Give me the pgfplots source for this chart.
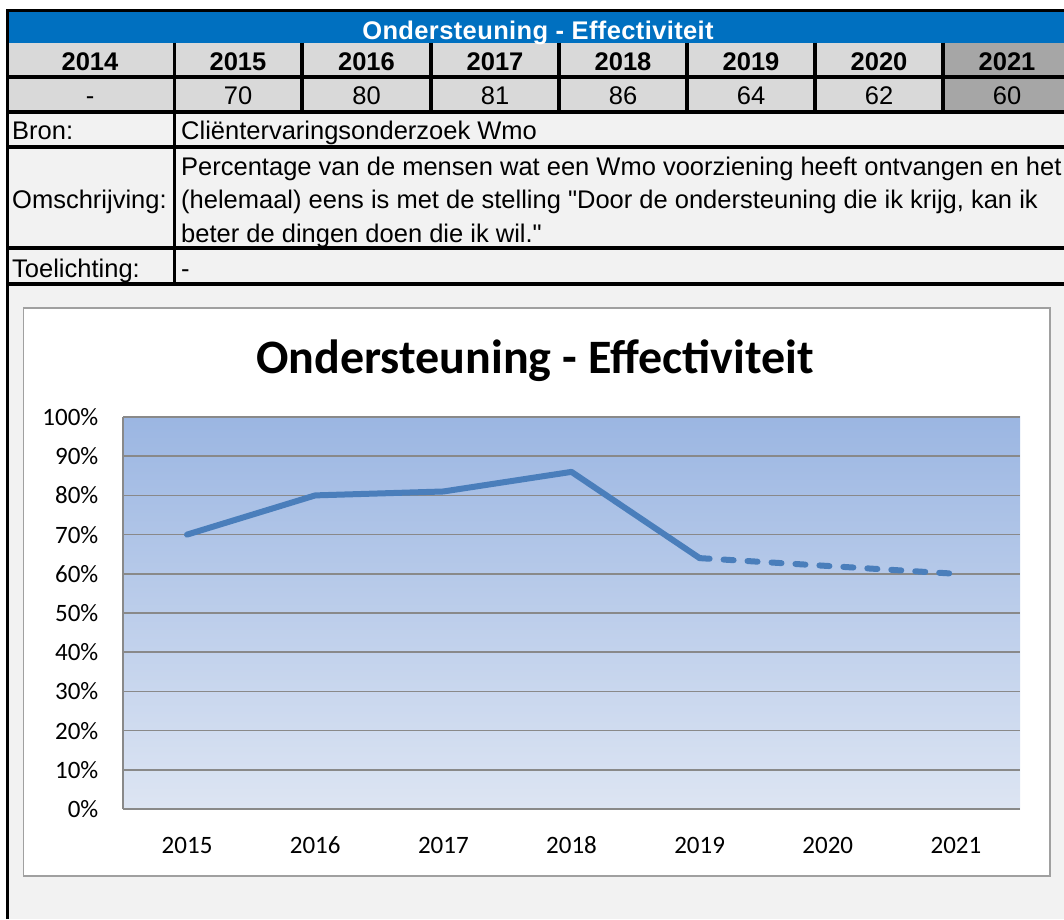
\documentclass[border=0pt]{standalone}
\usepackage{pgfplots}
\pgfplotsset{compat=1.18}
\usepackage{fontspec}
\setmainfont{Liberation Sans}[Ligatures=TeXOff]
\newfontfamily\calibri{Carlito}
\definecolor{xlblue}{HTML}{0070C0}
\definecolor{bggray}{HTML}{F2F2F2}
\definecolor{cellgray}{HTML}{D9D9D9}
\definecolor{darkcell}{HTML}{A6A6A6}
\definecolor{boxgray}{HTML}{A0A0A0}
\definecolor{gridgray}{HTML}{898989}
\definecolor{lineblue}{HTML}{4A7EBB}
\definecolor{shadetop}{RGB}{155,182,226}
\definecolor{shadebot}{RGB}{221,229,243}
\begin{document}
\begin{tikzpicture}[x=1pt,y=1pt,
  tt/.style={inner sep=0pt, font=\fontsize{25.5}{29}\selectfont},
  tb/.style={inner sep=0pt, font=\bfseries\fontsize{25.5}{29}\selectfont}]
\useasboundingbox (0,0) rectangle (1064,919);
\fill[white] (0,0) rectangle (1064,919);
\fill[bggray] (6,0) rectangle (1064,908);
\fill[xlblue] (6,876.3) rectangle (1064,908);
\fill[cellgray] (6,807) rectangle (943,876.3);
\fill[darkcell] (943,807) rectangle (1064,876.3);
% borders
\draw[line width=3pt] (6,908) -- (1064,908);
\foreach \yy in {842,807,772,671,635} \draw[line width=3.2pt] (6,\yy) -- (1064,\yy);
\draw[line width=3.3pt] (7.7,0) -- (7.7,909.5);
\foreach \xx in {174.3,302,431,559,687,815,943} \draw[line width=3.3pt] (\xx,876.3) -- (\xx,807);
\draw[line width=3.3pt] (174.3,807) -- (174.3,635);
% table text
\node[inner sep=0pt, text=white, anchor=base, font=\bfseries\fontsize{25.5}{29}\selectfont\addfontfeature{LetterSpace=1.5}] at (538,879.7) {Ondersteuning - Effectiviteit};
\foreach \xx/\yr/\val in {90/2014/-,238/2015/70,366.5/2016/80,495/2017/81,623/2018/86,751/2019/64,879/2020/62,1007/2021/60}{
  \node[tb, anchor=base] at (\xx,848) {\yr};
  \node[tt, anchor=base] at (\xx,814.7) {\val};
}
\node[tt, anchor=base west] at (12,779.7) {Bron:};
\node[tt, anchor=base west] at (181,779.7) {Cliëntervaringsonderzoek Wmo};
\node[tt, anchor=base west] at (12,710) {Omschrijving:};
\node[tt, anchor=base west] at (181,743.3) {Percentage van de mensen wat een Wmo voorziening heeft ontvangen en het};
\node[tt, anchor=base west] at (181,710) {(helemaal) eens is met de stelling "Door de ondersteuning die ik krijg, kan ik};
\node[tt, anchor=base west] at (181,676.7) {beter de dingen doen die ik wil."};
\node[tt, anchor=base west] at (12,641.3) {Toelichting:};
\node[tt, anchor=base west] at (181,641.3) {-};
% chart box
\filldraw[fill=white, draw=boxgray, line width=1.5pt] (23.5,43) rectangle (1050,611);
\node[inner sep=0pt, anchor=base, font=\calibri\bfseries\fontsize{48}{56}\selectfont] at (535,545) {Ondersteuning - Effectiviteit};
\begin{axis}[at={(123pt,110pt)}, anchor=south west,
  width=897pt, height=392pt, scale only axis,
  xmin=-0.5, xmax=6.5, ymin=0, ymax=100,
  xtick={0,1,2,3,4,5,6},
  xticklabels={2015,2016,2017,2018,2019,2020,2021},
  ytick={0,10,20,30,40,50,60,70,80,90,100},
  yticklabels={0\%,10\%,20\%,30\%,40\%,50\%,60\%,70\%,80\%,90\%,100\%},
  major tick length=0pt,
  ymajorgrids, grid style={line width=1.5pt, draw=gridgray},
  axis x line*=bottom, axis y line*=left,
  axis line style={-, line width=1.5pt, draw=gridgray},
  every outer x axis line/.append style={-},
  every outer y axis line/.append style={-},
  axis background/.style={shade, top color=shadetop, bottom color=shadebot},
  tick label style={font=\calibri\fontsize{25}{30}\selectfont, text=black},
  xticklabel style={anchor=base, yshift=-44pt},
  yticklabel style={anchor=east, inner sep=0pt, xshift=-24.5pt},
  clip=false]
\addplot[line width=6pt, draw=lineblue, line join=round, line cap=round] coordinates {(0,70) (1,80) (2,81) (3,86) (4,64)};
\addplot[line width=6pt, draw=lineblue, line cap=round, dash pattern=on 10pt off 14pt] coordinates {(4,64) (5,62) (6,60)};
\end{axis}
\end{tikzpicture}
\end{document}
